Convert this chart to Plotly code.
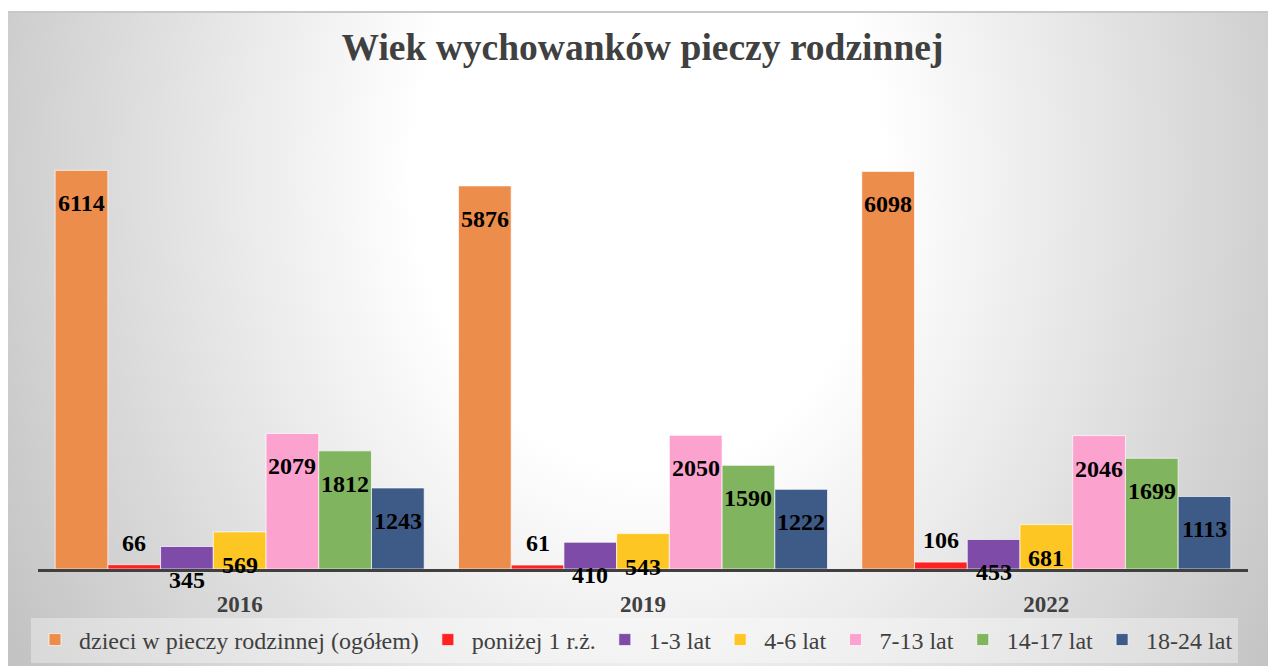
import base64
import plotly.graph_objects as go

# ---------------- data ----------------
years = ["2016", "2019", "2022"]
series_names = [
    "dzieci w pieczy rodzinnej (ogółem)",
    "poniżej 1 r.ż.",
    "1-3 lat",
    "4-6 lat",
    "7-13 lat",
    "14-17 lat",
    "18-24 lat",
]
total = [6114, 5876, 6098]
under1 = [66, 61, 106]
age_1_3 = [345, 410, 453]
age_4_6 = [569, 543, 681]
age_7_13 = [2079, 2050, 2046]
age_14_17 = [1812, 1590, 1699]
age_18_24 = [1243, 1222, 1113]
values = [total, under1, age_1_3, age_4_6, age_7_13, age_14_17, age_18_24]

colors = ["#ED8D4C", "#FF2222", "#7F4BA8", "#FDC623", "#FCA2CF", "#80B45E", "#3E5A87"]
label_shift = [-33, 22, -33, -33, -33, -33, -33]

# ---------------- layout constants ----------------
W, H = 1268, 666
ML, MR, MT, MB = 38, 20, 100, 97
PW = W - ML - MR
PH = H - MT - MB
BARGAP = 0.085
YMAX = PH / 0.0652
SERIF = "Liberation Serif, Times New Roman, serif"

# background gradient frame (radial, white centre -> grey edges)
FX0, FY0 = 8, 12
FW, FH = W - FX0, H - FY0
svg = f'''<svg xmlns="http://www.w3.org/2000/svg" width="{FW}" height="{FH}" viewBox="0 0 {FW} {FH}" preserveAspectRatio="none">
<defs><radialGradient id="g" gradientUnits="userSpaceOnUse" cx="640" cy="160" r="780"
 gradientTransform="translate(640 160) scale(1 1.27) translate(-640 -160)">
<stop offset="0" stop-color="#ffffff"/><stop offset="0.3" stop-color="#ffffff"/>
<stop offset="1" stop-color="#bebebe"/></radialGradient></defs>
<rect x="0" y="0" width="{FW}" height="{FH}" fill="url(#g)"/></svg>'''
src = "data:image/svg+xml;base64," + base64.b64encode(svg.encode()).decode()

fig = go.Figure()
for name, vals, col in zip(series_names, values, colors):
    fig.add_trace(go.Bar(
        x=years, y=vals, name=name,
        marker=dict(color=col, line=dict(color="rgba(255,255,255,0.7)", width=1)),
        hoverinfo="x+y+name",
    ))

barw = PW / len(years) * (1 - BARGAP) / len(series_names)
annotations = []
for i, vals in enumerate(values):
    for j, v in enumerate(vals):
        annotations.append(dict(
            x=j, y=v, xref="x", yref="y", text=str(v), showarrow=False,
            xshift=(i - (len(series_names) - 1) / 2) * barw, yshift=label_shift[i],
            font=dict(family=SERIF, size=24, color="#000000", weight="bold"),
        ))

px2x = lambda px: (px - ML) / PW
px2y = lambda py: (H - MB - py) / PH

fig.update_layout(
    width=W, height=H,
    margin=dict(l=ML, r=MR, t=MT, b=MB, pad=0, autoexpand=False),
    paper_bgcolor="#ffffff",
    plot_bgcolor="rgba(0,0,0,0)",
    barmode="group", bargap=BARGAP, bargroupgap=0,
    title=dict(text="Wiek wychowanków pieczy rodzinnej", x=642.5 / W, xref="container",
               y=1 - 47 / H, yref="container", xanchor="center", yanchor="middle",
               font=dict(family=SERIF, size=37.5, color="#404040", weight="bold")),
    xaxis=dict(type="category", range=[-0.5, len(years) - 0.5], autorange=False,
               showline=True, linecolor="#404040", linewidth=3, showgrid=False,
               ticks="", ticklabelstandoff=12,
               tickfont=dict(family=SERIF, size=23, color="#404040", weight="bold")),
    yaxis=dict(range=[0, YMAX], autorange=False, visible=False, showgrid=False, zeroline=False),
    showlegend=True,
    legend=dict(orientation="h", xref="container", yref="container",
                x=31 / W, y=1 - 640 / H, xanchor="left", yanchor="middle",
                bgcolor="rgba(255,255,255,0.35)", itemwidth=38,
                font=dict(family=SERIF, size=24, color="#404040"),
                itemclick=False, itemdoubleclick=False),
    annotations=annotations,
    images=[dict(source=src, xref="paper", yref="paper",
                 x=px2x(FX0), y=px2y(FY0), sizex=FW / PW, sizey=FH / PH,
                 xanchor="left", yanchor="top", sizing="stretch", layer="below")],
    shapes=[dict(type="line", xref="paper", yref="paper",
                 x0=px2x(FX0), x1=px2x(W), y0=px2y(FY0), y1=px2y(FY0),
                 line=dict(color="#c8c8c8", width=2), layer="below")],
)

fig.write_html("out.html", config={"displayModeBar": False},
               post_script="document.body.style.margin='0';")
